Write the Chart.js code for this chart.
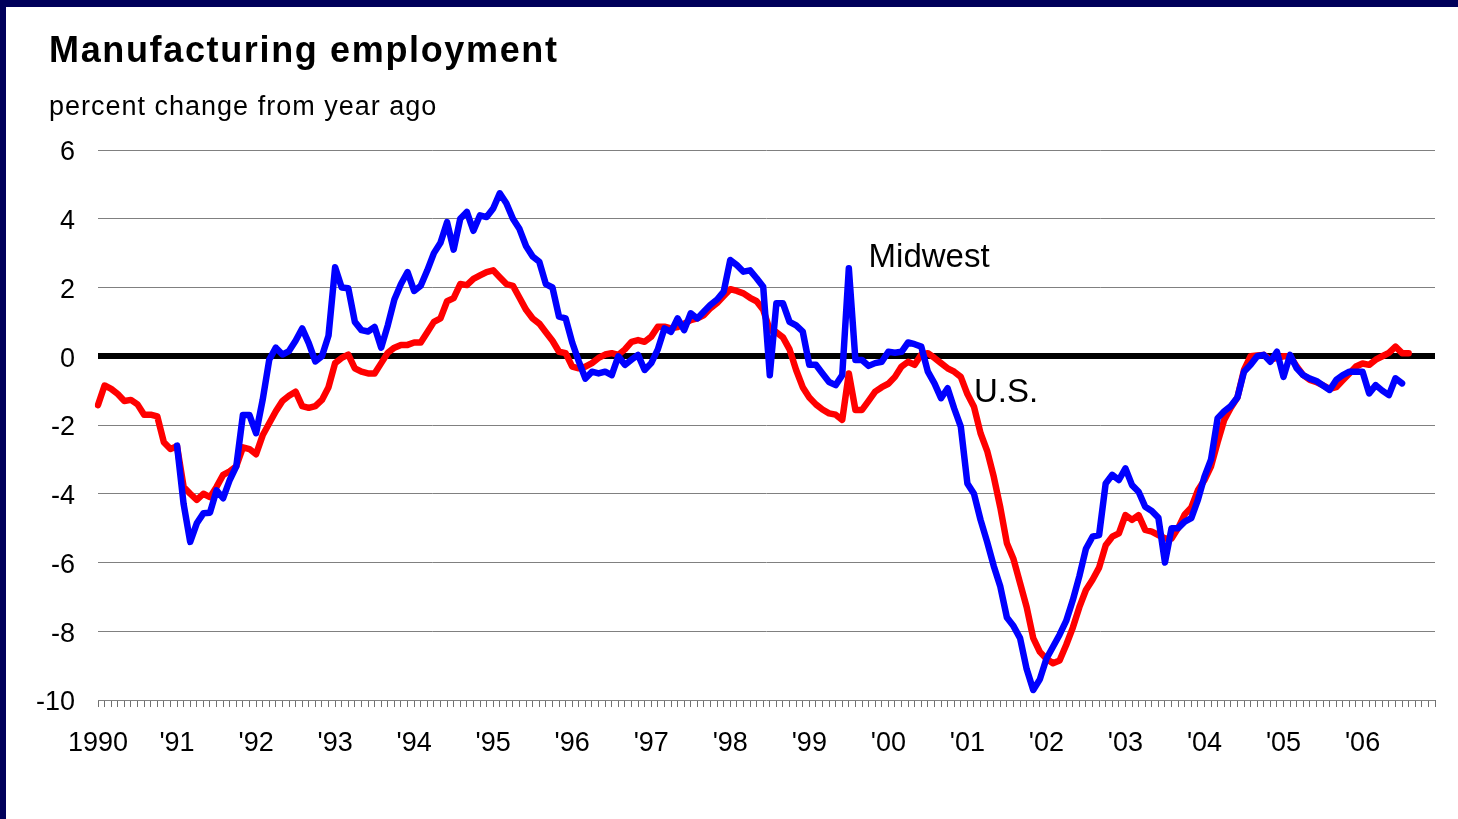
<!DOCTYPE html>
<html>
<head>
<meta charset="utf-8">
<script src="https://cdn.jsdelivr.net/npm/chart.js@4/dist/chart.umd.min.js"></script>
<style>
  html, body { margin: 0; padding: 0; background: #fff; }
  #wrap { position: relative; width: 1458px; height: 819px; overflow: hidden; }
  #topbar { position: absolute; left: 0; top: 0; width: 1458px; height: 7px; background: #00005a; }
  #leftbar { position: absolute; left: 0; top: 0; width: 6px; height: 819px; background: #00005a; }
  #title { position: absolute; left: 49px; top: 32px; font: bold 36px "Liberation Sans", Arial, sans-serif; line-height: 1; letter-spacing: 1.65px; color: #000; white-space: nowrap; }
  #subtitle { position: absolute; left: 49px; top: 93px; font: 27px "Liberation Sans", Arial, sans-serif; line-height: 1; letter-spacing: 1px; color: #000; white-space: nowrap; }
  canvas { position: absolute; left: 0; top: 0; }
</style>
</head>
<body>
<div id="wrap">
  <canvas id="chart" width="1458" height="819"></canvas>
  <div id="topbar"></div>
  <div id="leftbar"></div>
  <div id="title">Manufacturing employment</div>
  <div id="subtitle">percent change from year ago</div>
</div>
<script>
// ---- data (monthly, Jan 1990 .. Dec 2006) ----
const years = [1990, 1991, 1992, 1993, 1994, 1995, 1996, 1997, 1998, 1999, 2000, 2001, 2002, 2003, 2004, 2005, 2006];
const yearLabels = ["1990", "'91", "'92", "'93", "'94", "'95", "'96", "'97", "'98", "'99", "'00", "'01", "'02", "'03", "'04", "'05", "'06"];
const yTicks = [6, 4, 2, 0, -2, -4, -6, -8, -10];

// U.S. (red)
const usData = [
  -1.42, -0.85, -0.95, -1.1, -1.3, -1.27, -1.4, -1.7, -1.7, -1.75, -2.5, -2.7,
  -2.62, -3.8, -4.0, -4.18, -4.0, -4.1, -3.8, -3.45, -3.35, -3.2, -2.65, -2.7,
  -2.85, -2.3, -1.95, -1.6, -1.3, -1.15, -1.03, -1.45, -1.5, -1.45, -1.27, -0.9,
  -0.2, -0.05, 0.05, -0.35, -0.45, -0.5, -0.5, -0.2, 0.1, 0.25, 0.33, 0.33,
  0.4, 0.4, 0.7, 1.0, 1.1, 1.6, 1.69, 2.1, 2.07, 2.25, 2.35, 2.45,
  2.5, 2.3, 2.1, 2.05, 1.7, 1.35, 1.1, 0.95, 0.7, 0.45, 0.13, 0.09,
  -0.3, -0.35, -0.3, -0.2, -0.05, 0.05, 0.09, 0.04, 0.2, 0.42, 0.47, 0.42,
  0.57, 0.86, 0.86, 0.81, 0.85, 0.95, 1.05, 1.1, 1.2, 1.4, 1.55, 1.75,
  1.95, 1.9, 1.83, 1.7, 1.6, 1.35, 0.76, 0.7, 0.55, 0.2, -0.4, -0.9,
  -1.2, -1.4, -1.55, -1.66, -1.7, -1.85, -0.5, -1.56, -1.56, -1.3, -1.03, -0.9,
  -0.8, -0.6, -0.3, -0.16, -0.25, 0.05, 0.09, -0.05, -0.2, -0.35, -0.45, -0.6,
  -1.1, -1.47, -2.24, -2.75, -3.5, -4.4, -5.44, -5.9, -6.6, -7.3, -8.2, -8.6,
  -8.8, -8.93, -8.85, -8.4, -7.9, -7.3, -6.8, -6.5, -6.15, -5.5, -5.25, -5.15,
  -4.62, -4.76, -4.62, -5.05, -5.1, -5.2, -5.3, -5.3, -5.0, -4.6, -4.4, -3.9,
  -3.6, -3.2, -2.5, -1.85, -1.5, -1.2, -0.4, 0.0, 0.02, 0.04, -0.1, -0.05,
  0.0, 0.0, -0.3, -0.55, -0.69, -0.75, -0.85, -0.95, -0.9, -0.7, -0.5, -0.3,
  -0.21, -0.25, -0.1, 0.0, 0.1, 0.28, 0.09, 0.09
];

// Midwest (blue), starts Jan 1991
const midwestData = [
  null, null, null, null, null, null, null, null, null, null, null, null,
  -2.6, -4.3, -5.4, -4.86, -4.57, -4.55, -3.9, -4.13, -3.6, -3.2, -1.71, -1.71,
  -2.24, -1.27, -0.1, 0.25, 0.05, 0.15, 0.45, 0.81, 0.38, -0.15, 0.0, 0.6,
  2.59, 2.0, 1.98, 1.0, 0.76, 0.72, 0.85, 0.25, 0.9, 1.65, 2.1, 2.45,
  1.9, 2.05, 2.5, 3.0, 3.3, 3.9, 3.1, 4.0, 4.2, 3.65, 4.1, 4.05,
  4.3, 4.74, 4.45, 4.0, 3.7, 3.2, 2.9, 2.75, 2.1, 2.0, 1.15, 1.1,
  0.4, -0.15, -0.65, -0.45, -0.5, -0.45, -0.55, 0.0, -0.25, -0.1, 0.04, -0.4,
  -0.2, 0.2, 0.81, 0.71, 1.1, 0.76, 1.25, 1.1, 1.3, 1.5, 1.65, 1.88,
  2.8, 2.65, 2.46, 2.5, 2.27, 2.02, -0.55, 1.54, 1.54, 1.0, 0.9, 0.72,
  -0.25, -0.25, -0.5, -0.75, -0.84, -0.55, 2.56, -0.11, -0.11, -0.28, -0.2, -0.16,
  0.13, 0.1, 0.13, 0.4, 0.35, 0.28, -0.45, -0.79, -1.22, -0.93, -1.52, -2.05,
  -3.7, -4.0, -4.76, -5.4, -6.1, -6.7, -7.6, -7.85, -8.2, -9.1, -9.71, -9.4,
  -8.8, -8.45, -8.1, -7.7, -7.1, -6.4, -5.6, -5.25, -5.2, -3.7, -3.45, -3.6,
  -3.26, -3.75, -3.94, -4.38, -4.5, -4.7, -6.0, -5.0, -5.0, -4.81, -4.71, -4.18,
  -3.5, -3.0, -1.8, -1.6, -1.45, -1.2, -0.45, -0.25, 0.0, 0.04, -0.16, 0.13,
  -0.6, 0.04, -0.35, -0.55, -0.65, -0.72, -0.85, -0.98, -0.69, -0.55, -0.45, -0.45,
  -0.45, -1.08, -0.84, -1.0, -1.13, -0.64, -0.79
];

// line labels inside the plot (month index, value)
const noteText = ["Midwest", "U.S."];
const noteMonth = [117, 133];
const noteValue = [2.86, -1.07];

// month categories
const months = [];
years.forEach(y => {
  for (let m = 1; m <= 12; m++) months.push(y + "-" + String(m).padStart(2, "0"));
});

const FONT = '"Liberation Sans", Arial, sans-serif';
Chart.defaults.font.family = FONT;
Chart.defaults.color = "#000";

const notesPlugin = {
  id: "notes",
  afterDatasetsDraw(chart) {
    const { ctx, scales } = chart;
    ctx.save();
    ctx.font = "33px " + FONT;
    ctx.fillStyle = "#000";
    ctx.textAlign = "left";
    ctx.textBaseline = "middle";
    noteText.forEach((t, i) => {
      ctx.fillText(t, scales.x.getPixelForValue(noteMonth[i]), scales.y.getPixelForValue(noteValue[i]));
    });
    ctx.restore();
  }
};

new Chart(document.getElementById("chart"), {
  type: "line",
  data: {
    labels: months,
    datasets: [
      {
        label: "Midwest",
        data: midwestData,
        borderColor: "#0000ff",
        borderWidth: 6.5,
        pointRadius: 0,
        tension: 0,
        borderJoinStyle: "round",
        borderCapStyle: "round",
        spanGaps: false
      },
      {
        label: "U.S.",
        data: usData,
        borderColor: "#ff0000",
        borderWidth: 6.5,
        pointRadius: 0,
        tension: 0,
        borderJoinStyle: "round",
        borderCapStyle: "round"
      }
    ]
  },
  options: {
    responsive: false,
    animation: false,
    layout: { padding: { left: 0, right: 23, top: 150, bottom: 0 } },
    plugins: {
      legend: { display: false },
      tooltip: { enabled: false }
    },
    scales: {
      x: {
        type: "category",
        offset: false,
        afterFit: s => { s.height = 119; },
        border: { display: false },
        grid: {
          drawOnChartArea: false,
          drawTicks: true,
          tickLength: 7,
          color: "#707070",
          lineWidth: 1
        },
        ticks: {
          autoSkip: false,
          maxRotation: 0,
          padding: 20,
          font: { size: 27 },
          callback: (v, i) => (i % 12 === 0 ? yearLabels[i / 12] : "")
        }
      },
      y: {
        min: -10,
        max: 6,
        afterFit: s => { s.width = 98; },
        afterBuildTicks: s => { s.ticks = yTicks.map(v => ({ value: v })); },
        border: { display: false },
        grid: {
          drawTicks: false,
          color: c => (c.tick.value === 0 ? "#000" : "#808080"),
          lineWidth: c => (c.tick.value === 0 ? 6 : 1)
        },
        ticks: {
          padding: 23,
          labelOffset: 3,
          font: { size: 27 },
          callback: v => String(v)
        }
      }
    }
  },
  plugins: [notesPlugin]
});
</script>
</body>
</html>
